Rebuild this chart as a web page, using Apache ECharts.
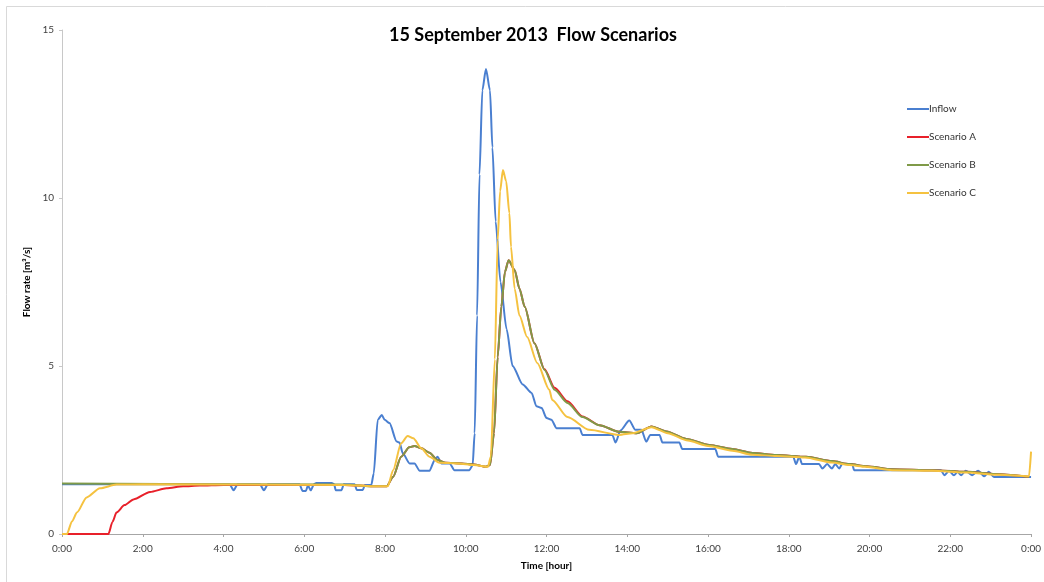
<!DOCTYPE html>
<html><head><meta charset="utf-8">
<script src="https://cdn.jsdelivr.net/npm/echarts@6/dist/echarts.min.js"></script>
<style>html,body{margin:0;padding:0;background:#fff}#c{width:1044px;height:582px}</style>
</head><body><div id="c"></div>
<script>
// [hour, flow m3/s]
const inflow = [[0,1.48],[4.15,1.48],[4.25,1.3],[4.35,1.48],[4.9,1.48],[5.0,1.3],[5.1,1.48],[5.88,1.48],[5.96,1.28],[6.04,1.28],[6.09,1.45],[6.16,1.3],[6.24,1.48],[6.3,1.52],[6.68,1.52],[6.74,1.48],[6.78,1.3],[6.92,1.3],[6.98,1.48],[7.25,1.48],[7.3,1.31],[7.45,1.31],[7.5,1.46],[7.66,1.46],[7.72,1.8],[7.82,3.4],[7.92,3.54],[7.99,3.4],[8.11,3.3],[8.29,2.75],[8.36,2.72],[8.44,2.4],[8.61,2.1],[8.73,2.1],[8.86,1.88],[9.1,1.88],[9.23,2.2],[9.3,2.3],[9.4,2.1],[9.6,2.1],[9.72,1.9],[10.09,1.9],[10.17,2.05],[10.22,3.0],[10.28,6.5],[10.34,10.7],[10.41,13.2],[10.5,13.84],[10.6,13.2],[10.66,11.5],[10.74,9.3],[10.86,7.5],[11.01,6.1],[11.16,5.0],[11.41,4.45],[11.63,4.2],[11.75,3.8],[11.88,3.75],[12.0,3.45],[12.12,3.4],[12.25,3.15],[12.82,3.15],[12.89,2.95],[13.63,2.95],[13.71,2.72],[13.83,3.08],[14.05,3.38],[14.2,3.1],[14.35,3.1],[14.47,2.75],[14.57,2.95],[14.8,2.95],[14.87,2.72],[15.29,2.72],[15.36,2.53],[16.18,2.53],[16.25,2.3],[18.11,2.3],[18.18,2.08],[18.26,2.3],[18.33,2.08],[18.75,2.08],[18.83,1.95],[18.95,2.08],[19.07,1.95],[19.15,2.08],[19.25,1.95],[19.32,2.08],[19.57,2.08],[19.62,1.9],[21.77,1.9],[21.85,1.75],[21.97,1.88],[22.09,1.75],[22.18,1.85],[22.27,1.75],[22.38,1.88],[22.54,1.75],[22.69,1.88],[22.84,1.72],[22.95,1.85],[23.08,1.7],[24.0,1.7]];
const scenarioA = [[0,0],[1.15,0],[1.25,0.36],[1.35,0.64],[1.55,0.86],[1.77,1.03],[2.18,1.25],[2.59,1.36],[3.0,1.42],[3.41,1.44],[4.0,1.46],[7.0,1.46],[7.7,1.42],[8.04,1.42],[8.2,1.7],[8.4,2.3],[8.6,2.58],[8.73,2.62],[8.9,2.55],[9.1,2.42],[9.3,2.2],[9.5,2.12],[9.9,2.1],[10.2,2.07],[10.5,2.0],[10.6,2.05],[10.7,3.0],[10.79,5.27],[10.88,6.76],[10.97,7.8],[11.06,8.15],[11.21,7.86],[11.33,7.3],[11.46,6.76],[11.7,5.68],[11.95,4.9],[12.2,4.35],[12.52,3.95],[12.89,3.5],[13.31,3.24],[13.8,3.04],[14.23,3.0],[14.6,3.2],[14.97,3.05],[15.46,2.83],[16.03,2.65],[16.6,2.53],[17.1,2.41],[17.69,2.35],[18.43,2.3],[19.07,2.17],[19.5,2.08],[19.92,2.02],[20.56,1.93],[21.55,1.9],[22.39,1.85],[23.21,1.78],[23.95,1.7]];
const scenarioB = [[0,1.5],[7.0,1.47],[7.7,1.42],[8.04,1.42],[8.2,1.7],[8.4,2.3],[8.6,2.58],[8.73,2.62],[8.9,2.55],[9.1,2.42],[9.3,2.2],[9.5,2.12],[9.9,2.1],[10.2,2.07],[10.5,2.0],[10.6,2.05],[10.7,3.0],[10.79,5.27],[10.88,6.76],[10.97,7.8],[11.06,8.15],[11.21,7.86],[11.33,7.3],[11.46,6.76],[11.7,5.68],[11.95,4.88],[12.2,4.29],[12.52,3.9],[12.89,3.48],[13.31,3.24],[13.8,3.04],[14.23,3.0],[14.6,3.2],[14.97,3.05],[15.46,2.83],[16.03,2.65],[16.6,2.53],[17.1,2.41],[17.69,2.35],[18.43,2.3],[19.07,2.17],[19.5,2.08],[19.92,2.02],[20.56,1.93],[21.55,1.9],[22.39,1.85],[23.21,1.78],[23.95,1.7]];
const scenarioC = [[0,0],[0.12,0],[0.25,0.38],[0.37,0.64],[0.61,1.09],[0.94,1.36],[1.35,1.47],[2.0,1.48],[7.0,1.46],[7.7,1.42],[8.07,1.42],[8.2,1.9],[8.4,2.7],[8.56,2.92],[8.7,2.85],[8.9,2.55],[9.1,2.3],[9.35,2.12],[9.8,2.1],[10.2,2.05],[10.55,2.0],[10.62,2.3],[10.72,5.2],[10.79,8.75],[10.85,10.2],[10.92,10.83],[11.0,10.5],[11.08,9.55],[11.12,8.55],[11.21,7.3],[11.33,6.5],[11.52,5.86],[11.77,5.09],[12.07,4.29],[12.14,3.99],[12.52,3.48],[13.06,3.1],[13.8,2.95],[14.13,3.0],[14.6,3.18],[15.0,3.0],[15.5,2.78],[16.0,2.62],[16.6,2.48],[17.1,2.36],[17.7,2.32],[18.4,2.28],[19.07,2.13],[19.5,2.05],[19.9,2.0],[20.56,1.9],[21.55,1.88],[22.39,1.83],[23.21,1.76],[23.95,1.72],[24.0,2.45]];
const seriesNames = ['Inflow','Scenario A','Scenario B','Scenario C'];
const seriesColors = ['#4a7fd0','#e8202a','#7f9a48','#f5c240'];
const yTicks = [0,5,10,15];

const F = 'Lato, "Open Sans", sans-serif';
const chart = echarts.init(document.getElementById('c'));
const datas = [inflow, scenarioA, scenarioB, scenarioC];
chart.setOption({
  animation:false,
  backgroundColor:'#fff',
  graphic:[{type:'rect',shape:{x:6.5,y:6.5,width:1060,height:600},style:{fill:'none',stroke:'#d9d9d9',lineWidth:1},silent:true}],
  title:{text:'15 September 2013  Flow Scenarios',left:528,top:21,textAlign:'center',
    textStyle:{fontFamily:F,fontSize:18,fontWeight:'bold',color:'#000'}},
  legend:{orient:'vertical',left:902,top:99,itemGap:18,itemWidth:22,itemHeight:2,
    textStyle:{fontFamily:F,fontSize:10,color:'#333',padding:[0,0,0,-5]},
    data:seriesNames.map(n=>({name:n,icon:'rect'}))},
  grid:{left:62,right:12,top:30,bottom:48,containLabel:false},
  xAxis:{type:'value',min:0,max:24,interval:2,
    name:'Time [hour]',nameLocation:'middle',nameGap:27,
    nameTextStyle:{fontFamily:F,fontSize:10,fontWeight:'bold',color:'#000'},
    axisLine:{lineStyle:{color:'#a6a6a6'}},axisTick:{show:true,length:3,lineStyle:{color:'#a6a6a6'}},
    splitLine:{show:false},
    axisLabel:{fontFamily:F,fontSize:10,color:'#404040',margin:10,
      formatter:v=>(v%24)+':00'}},
  yAxis:{type:'value',min:yTicks[0],max:yTicks[yTicks.length-1],interval:5,
    name:'Flow rate [m³/s]',nameLocation:'middle',nameGap:25,nameRotate:90,
    nameTextStyle:{fontFamily:F,fontSize:10,fontWeight:'bold',color:'#000'},
    axisLine:{show:true,lineStyle:{color:'#c8c8c8'}},axisTick:{show:true,length:3,lineStyle:{color:'#c8c8c8'}},
    splitLine:{show:false},
    axisLabel:{fontFamily:F,fontSize:10,color:'#404040',margin:8}},
  series:datas.map((d,i)=>({name:seriesNames[i],type:'line',data:d,symbol:'none',
    smooth:0.25,smoothMonotone:'x',
    lineStyle:{width:2,color:seriesColors[i]},itemStyle:{color:seriesColors[i]},z:2+i}))
});
</script></body></html>
